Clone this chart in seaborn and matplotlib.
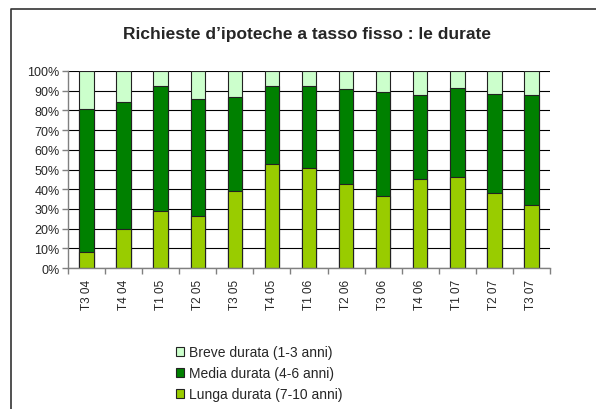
import numpy as np
import pandas as pd
import matplotlib
matplotlib.use("Agg")
import matplotlib.pyplot as plt
import seaborn as sns
from matplotlib.lines import Line2D
from matplotlib.patches import Patch
from matplotlib.ticker import PercentFormatter, FixedLocator

# -----------------------------
# Data (percent shares per quarter)
# -----------------------------
quarters = ["T3 04", "T4 04", "T1 05", "T2 05", "T3 05", "T4 05", "T1 06",
            "T2 06", "T3 06", "T4 06", "T1 07", "T2 07", "T3 07"]
lunga = [8.1, 19.6, 28.7, 26.2, 38.9, 53.0, 50.7, 42.6, 36.7, 45.1, 46.1, 38.0, 32.1]
media = [72.5, 64.5, 63.5, 59.8, 48.1, 39.2, 41.5, 48.3, 52.7, 42.9, 45.3, 50.5, 55.9]
breve = [19.4, 15.9, 7.8, 14.0, 13.0, 7.8, 7.8, 9.1, 10.6, 12.0, 8.6, 11.5, 12.0]

labels = ["Breve durata (1-3 anni)", "Media durata (4-6 anni)", "Lunga durata (7-10 anni)"]
colors = ["#CCFFCC", "#008000", "#99CC00"]

df = pd.DataFrame({"trimestre": quarters, "lunga": lunga, "media": media, "breve": breve})
df["top_lunga"] = df["lunga"]
df["top_media"] = df["lunga"] + df["media"]
df["top_breve"] = df["top_media"] + df["breve"]

# -----------------------------
# Plot
# -----------------------------
sns.set_style("white")
plt.rcParams["font.family"] = ["Liberation Sans", "DejaVu Sans"]

fig = plt.figure(figsize=(5.96, 4.10), dpi=100)
ax = fig.add_axes([68 / 596, 1 - 269 / 410, (550 - 68) / 596, (269 - 72) / 410])

# stacked bars: draw cumulative totals from the top segment down
for col, color in zip(["top_breve", "top_media", "top_lunga"], colors):
    sns.barplot(data=df, x="trimestre", y=col, color=color, width=0.39,
                edgecolor="#222222", linewidth=0.8, saturation=1, ax=ax)

ax.set_xlim(-0.5, len(quarters) - 0.5)
ax.set_ylim(0, 100)
ax.set_yticks(np.arange(0, 101, 10))
ax.yaxis.set_major_formatter(PercentFormatter(decimals=0))
ax.set_xlabel("")
ax.set_ylabel("")
ax.set_axisbelow(True)
ax.yaxis.grid(True, color="black", linewidth=0.8)
ax.xaxis.grid(False)

for side in ["top", "right"]:
    ax.spines[side].set_visible(False)
ax.spines["left"].set_color("#808080")
ax.spines["bottom"].set_color("#808080")
ax.spines["left"].set_linewidth(1)
ax.spines["bottom"].set_linewidth(1)

ax.tick_params(axis="y", left=True, length=4, width=1, color="#808080",
               labelsize=9, pad=2)
ax.tick_params(axis="x", which="major", length=0, labelsize=8.5, pad=8)
ax.xaxis.set_minor_locator(FixedLocator(np.arange(-0.5, len(quarters), 1)))
ax.tick_params(axis="x", which="minor", bottom=True, length=4, width=1, color="#808080")
plt.setp(ax.get_xticklabels(), rotation=90)

fig.text(307 / 596, 1 - 35 / 410, "Richieste d\u2019ipoteche a tasso fisso : le durate",
         ha="center", va="center", fontsize=12.5, fontweight="bold")

# legend
handles = [Patch(facecolor=c, edgecolor="#222222", linewidth=0.8) for c in colors]
fig.legend(handles, labels, loc="upper left", bbox_to_anchor=(176 / 596, 1 - 346 / 410),
           frameon=False, fontsize=10, handlelength=0.6, handleheight=0.6,
           handletextpad=0.35, labelspacing=0.52, borderpad=0, borderaxespad=0)

# chart frame (left and top edges)
fig.add_artist(Line2D([11 / 596, 11 / 596, 1.0], [0.0, 1 - 10 / 410, 1 - 10 / 410],
                      transform=fig.transFigure, color="#333333", linewidth=1.2))

fig.savefig("out.png", dpi=100)
